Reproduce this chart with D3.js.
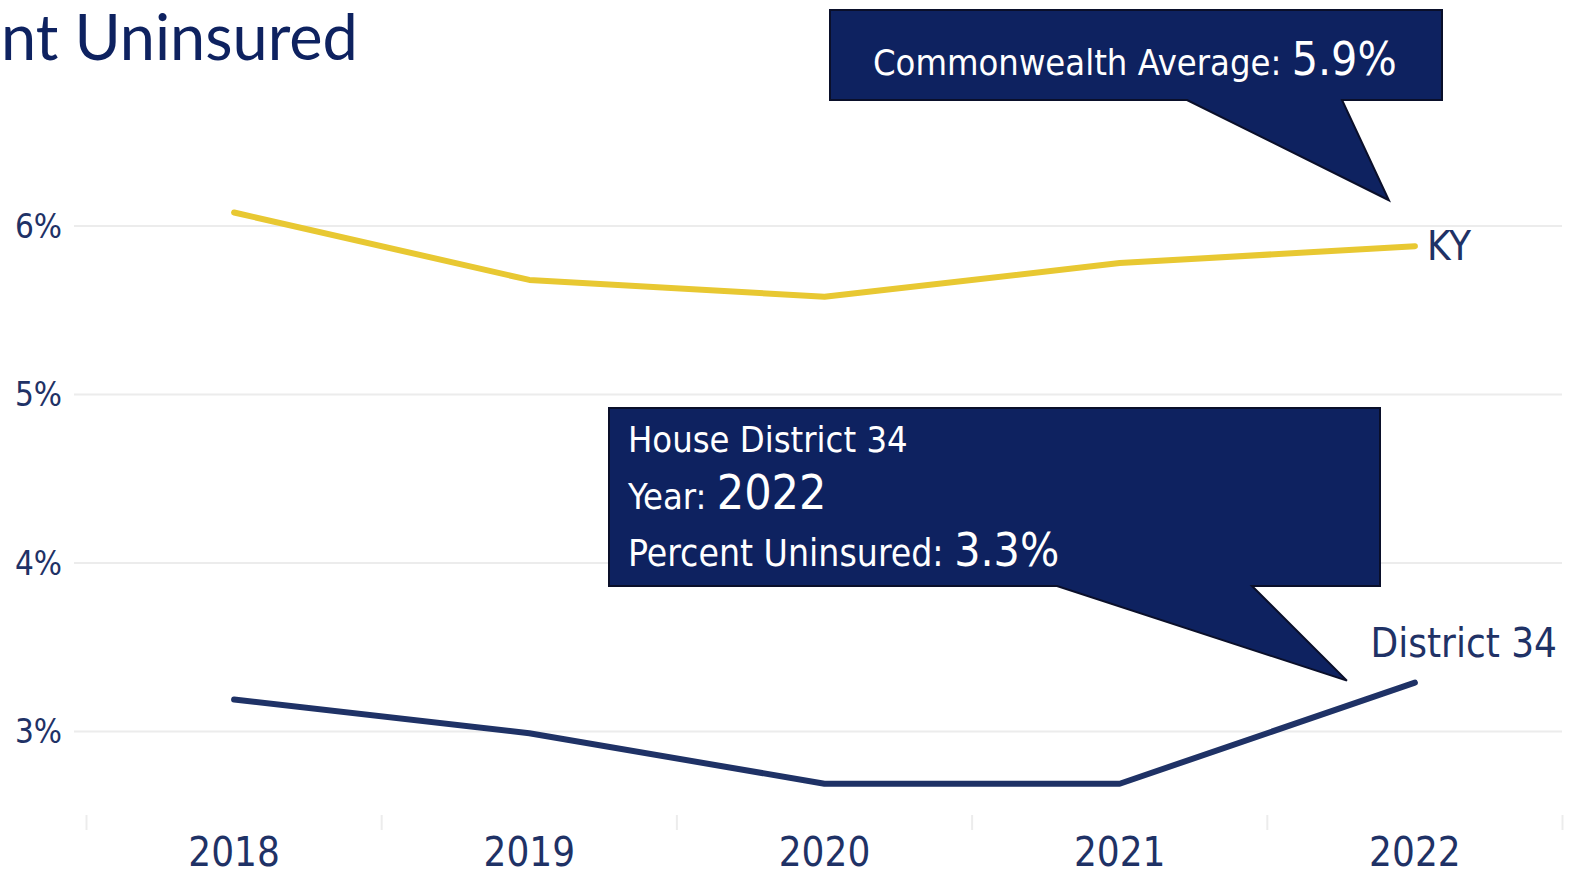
<!DOCTYPE html>
<html><head><meta charset="utf-8">
<script src="https://cdn.jsdelivr.net/npm/d3@7"></script>
<style>
html,body{margin:0;padding:0;background:#fff;overflow:hidden;}
svg{display:block;}
</style></head>
<body>
<svg id="chart" width="1574" height="875"></svg>
<script>
const years = ["2018","2019","2020","2021","2022"];
const kyValues = [6.08, 5.68, 5.58, 5.78, 5.88];
const districtValues = [3.19, 2.99, 2.69, 2.69, 3.29];
const yTicks = [3, 4, 5, 6];
const titleText = "nt Uninsured";
const kyLabel = "KY";
const districtLabel = "District 34";
const kyCallout = {label: "Commonwealth Average: ", value: "5.9%"};
const districtCallout = {name: "House District 34", yearLabel: "Year: ", year: "2022", pctLabel: "Percent Uninsured: ", pct: "3.3%"};

const navy = "#0e2260";
const axisNavy = "#1f3266";
const gold = "#e8c832";
const narrow = "'DejaVu Sans Condensed',sans-serif";

const svg = d3.select("#chart");
const x = d3.scaleBand().domain(years).range([86.5, 1562.5]);
const y = d3.scaleLinear().domain([3, 6]).range([731.5, 226]);
const xc = d => x(d) + x.bandwidth() / 2;

// gridlines
svg.append("g").selectAll("line").data(yTicks).join("line")
  .attr("x1", 74).attr("x2", 1562)
  .attr("y1", d => y(d)).attr("y2", d => y(d))
  .attr("stroke", "#ececec").attr("stroke-width", 2);

// y labels
svg.append("g").selectAll("text").data(yTicks).join("text")
  .attr("x", 62).attr("y", d => y(d)).attr("dy", "0.36em")
  .attr("text-anchor", "end")
  .style("font-family", narrow).style("font-size", "33px")
  .attr("fill", axisNavy).text(d => d + "%");

// x ticks (band boundaries)
const bounds = years.map(d => x(d)).concat([x.range()[1]]);
svg.append("g").selectAll("line").data(bounds).join("line")
  .attr("x1", d => d).attr("x2", d => d).attr("y1", 815).attr("y2", 830)
  .attr("stroke", "#ececec").attr("stroke-width", 2);

svg.append("g").selectAll("text").data(years).join("text")
  .attr("x", d => xc(d)).attr("y", 866)
  .attr("text-anchor", "middle")
  .style("font-family", narrow).style("font-size", "40px")
  .attr("fill", axisNavy).text(d => d);

// lines
const line = d3.line().x((d, i) => xc(years[i])).y(d => y(d));
svg.append("path").datum(kyValues).attr("d", line)
  .attr("fill", "none").attr("stroke", gold).attr("stroke-width", 6)
  .attr("stroke-linecap", "round").attr("stroke-linejoin", "round");
svg.append("path").datum(districtValues).attr("d", line)
  .attr("fill", "none").attr("stroke", axisNavy).attr("stroke-width", 6)
  .attr("stroke-linecap", "round").attr("stroke-linejoin", "round");

// end labels
svg.append("text").attr("x", xc("2022") + 12).attr("y", y(kyValues[4]) + 14)
  .style("font-family", narrow).style("font-size", "40px")
  .attr("fill", axisNavy).text(kyLabel);
svg.append("text").attr("x", 1557).attr("y", y(districtValues[4]) - 26)
  .attr("text-anchor", "end")
  .style("font-family", narrow).style("font-size", "40px")
  .attr("fill", axisNavy).text(districtLabel);

// title
svg.append("text").attr("x", 1).attr("y", 60)
  .style("font-family", "Lato,sans-serif").style("font-size", "63px")
  .attr("fill", navy).text(titleText);

// callouts
function callout(rx, ry, rw, rh, b1, b2, tipX, tipY) {
  const p = d3.path();
  p.moveTo(rx, ry); p.lineTo(rx + rw, ry); p.lineTo(rx + rw, ry + rh);
  p.lineTo(b2, ry + rh); p.lineTo(tipX, tipY); p.lineTo(b1, ry + rh);
  p.lineTo(rx, ry + rh); p.closePath();
  svg.append("path").attr("d", p.toString())
    .attr("fill", navy).attr("stroke", "#0a0f2a").attr("stroke-width", 2);
}
callout(830, 10, 612, 90, 1187, 1342, xc("2022") - 26, y(kyValues[4]) - 46);
const t1 = svg.append("text").attr("x", 873).attr("y", 75)
  .style("font-family", narrow).attr("fill", "#fff");
t1.append("tspan").style("font-size", "36px").text(kyCallout.label);
t1.append("tspan").style("font-size", "46px").text(kyCallout.value);

callout(609, 408, 771, 178, 1057, 1252, xc("2022") - 68, y(districtValues[4]) - 2);
svg.append("text").attr("x", 628).attr("y", 452)
  .style("font-family", narrow).style("font-size", "36px").attr("fill", "#fff")
  .text(districtCallout.name);
const t2 = svg.append("text").attr("x", 628).attr("y", 509)
  .style("font-family", narrow).attr("fill", "#fff");
t2.append("tspan").style("font-size", "36px").text(districtCallout.yearLabel);
t2.append("tspan").style("font-size", "48px").text(districtCallout.year);
const t3 = svg.append("text").attr("x", 628).attr("y", 566)
  .style("font-family", narrow).attr("fill", "#fff");
t3.append("tspan").style("font-size", "37px").text(districtCallout.pctLabel);
t3.append("tspan").style("font-size", "46px").text(districtCallout.pct);
</script>
</body></html>
